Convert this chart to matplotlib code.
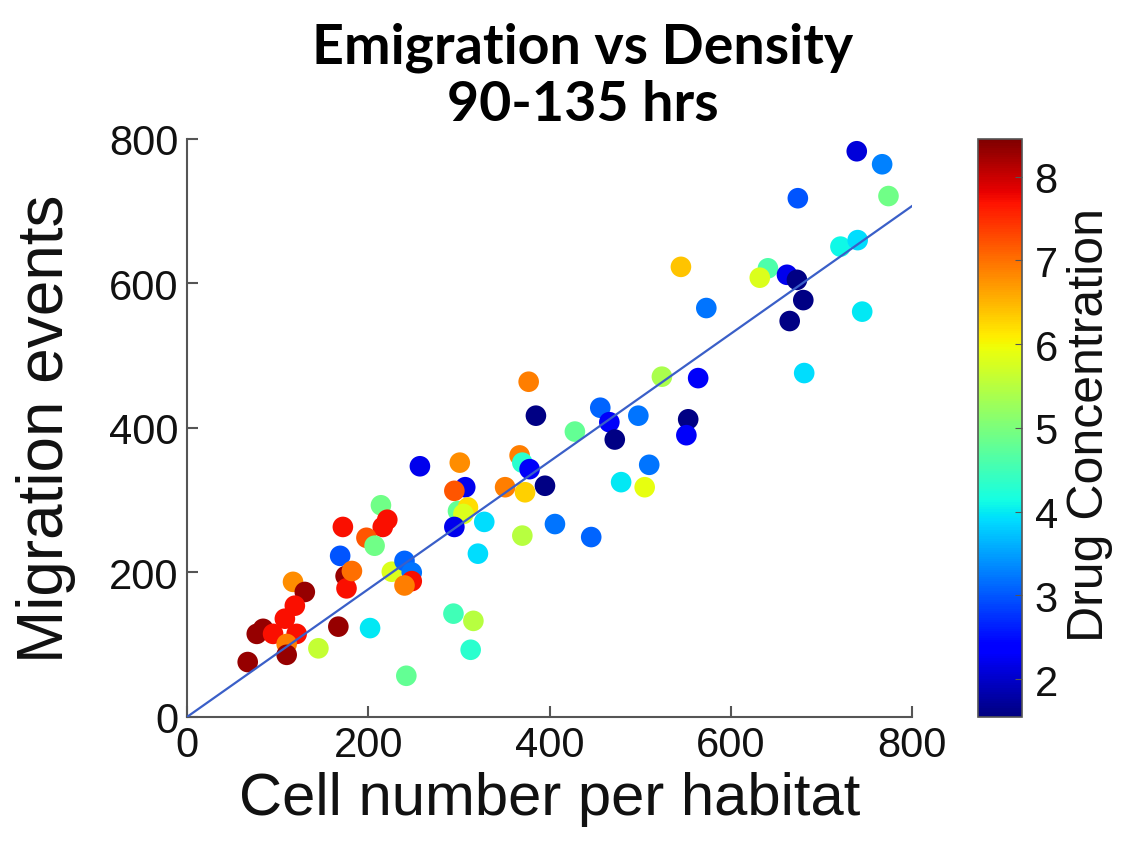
import numpy as np
import matplotlib
matplotlib.use("Agg")
import matplotlib.pyplot as plt

# data
cell_number = [739, 767, 774, 674, 545, 721, 740, 641, 632, 662, 673, 680, 665, 573, 745, 681, 524, 564,
               377, 385, 428, 456, 466, 472, 498, 553, 551, 367, 370, 378, 510, 479, 505, 395, 373, 351,
               301, 307, 295, 299, 310, 305, 295, 328, 370, 406, 446, 321, 257, 214, 221, 216, 172, 198,
               207, 169, 175, 176, 182, 226, 240, 248, 248, 240, 167, 202, 145, 294, 316, 313, 242,
               117, 130, 119, 108, 77, 84, 95, 121, 110, 110, 67]
migration = [783, 765, 721, 718, 623, 651, 660, 621, 608, 612, 605, 577, 548, 566, 561, 476, 471, 469,
             464, 417, 395, 428, 408, 384, 417, 412, 390, 362, 352, 343, 349, 325, 318, 320, 311, 318,
             352, 318, 313, 285, 290, 281, 263, 270, 251, 267, 249, 226, 347, 293, 273, 263, 263, 248,
             237, 223, 195, 178, 202, 201, 216, 200, 188, 182, 125, 123, 95, 143, 133, 93, 57,
             187, 173, 154, 136, 115, 122, 115, 115, 101, 86, 76]
drug_conc = [2.1, 3.3, 4.9, 3.0, 6.4, 4.1, 3.9, 4.6, 5.8, 2.2, 1.6, 1.6, 1.6, 3.2, 4.0, 3.9, 5.4, 2.3,
             6.9, 1.6, 4.8, 3.1, 2.3, 1.6, 3.2, 1.6, 2.3, 6.9, 4.3, 2.3, 3.2, 4.0, 5.9, 1.6, 6.3, 6.9,
             6.8, 2.2, 7.2, 4.8, 6.2, 5.8, 2.2, 3.9, 5.5, 3.2, 3.1, 3.9, 2.2, 4.9, 7.7, 7.7, 7.7, 7.2,
             4.9, 3.0, 8.3, 7.7, 7.0, 5.8, 3.1, 3.2, 7.7, 6.9, 8.3, 4.0, 5.6, 4.5, 5.5, 4.3, 4.8,
             6.8, 8.3, 7.7, 7.7, 8.3, 8.3, 7.7, 7.7, 6.9, 8.3, 8.3]
fit_slope = 0.884
x_ticks = [0, 200, 400, 600, 800]
y_ticks = [0, 200, 400, 600, 800]
cbar_ticks = [2, 3, 4, 5, 6, 7, 8]

plt.rcParams['font.family'] = ['Liberation Sans', 'DejaVu Sans']

fig = plt.figure(figsize=(11.21, 8.54), dpi=100)
ax = fig.add_axes([0.1668, 0.1593, 0.6468, 0.6768])
cax = fig.add_axes([0.8724, 0.1593, 0.0393, 0.6768])

sc = ax.scatter(cell_number, migration, c=drug_conc, cmap='jet', vmin=1.55, vmax=8.45,
                s=220, edgecolors='none', zorder=3)
xl = np.array([0, 800])
ax.plot(xl, fit_slope * xl, color='#3a5fc8', lw=1.6, zorder=4)

ax.set_xlim(0, 800)
ax.set_ylim(0, 800)
ax.set_xticks(x_ticks)
ax.set_yticks(y_ticks)
for s in ['top', 'right']:
    ax.spines[s].set_visible(False)
for s in ['left', 'bottom']:
    ax.spines[s].set_color('#555555')
    ax.spines[s].set_linewidth(1.5)
ax.tick_params(direction='in', length=8, width=1.5, colors='#555555', labelcolor='#111111',
               labelsize=30, pad=6)
ax.set_xlabel('Cell number per habitat', fontsize=43, labelpad=4, color='#111111')
ax.set_ylabel('Migration events', fontsize=46, labelpad=24, color='#111111')
ax.set_title('Emigration vs Density\n90-135 hrs', fontsize=40, fontweight='bold',
             family=['Lato', 'DejaVu Sans'], pad=14, linespacing=1.15, x=0.546)

cb = fig.colorbar(sc, cax=cax, ticks=cbar_ticks)
cb.outline.set_edgecolor('#555555')
cb.outline.set_linewidth(1.2)
cax.tick_params(direction='in', length=5, labelsize=30, colors='#555555', labelcolor='#111111', pad=9)
fig.text(1090 / 1121, 0.5023, 'Drug Concentration', rotation=90, ha='center', va='center',
         fontsize=36, color='#111111')

fig.savefig('out.png', dpi=100, facecolor='white')
